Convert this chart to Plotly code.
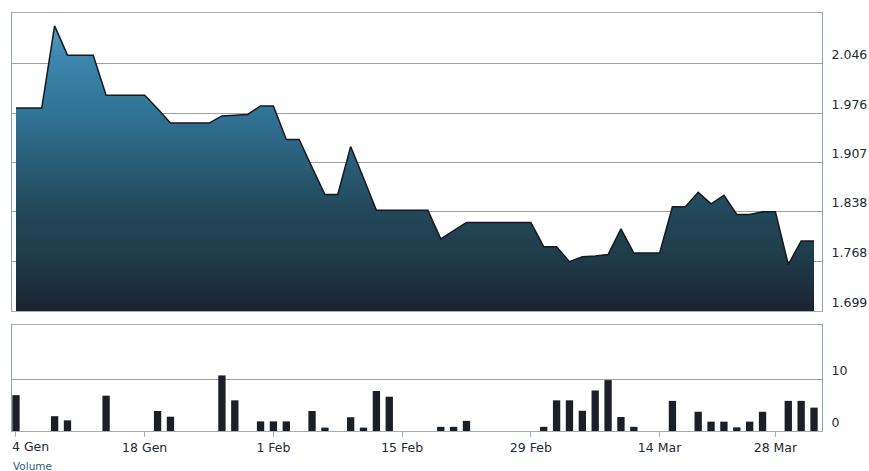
import pandas as pd
import plotly.graph_objects as go

# Trading days (4 Jan 2008 .. 2 Apr 2008, Good Friday closed)
days = [d.strftime("%Y-%m-%d") for d in pd.bdate_range("2008-01-04", "2008-04-02") if d.strftime("%Y-%m-%d") != "2008-03-21"]

price = [1.983, 1.983, 1.983, 2.098, 2.057, 2.057, 2.057, 2.001, 2.001, 2.001,
         2.001, 1.982, 1.962, 1.962, 1.962, 1.962, 1.972, 1.973, 1.974, 1.986,
         1.986, 1.939, 1.939, 1.900, 1.862, 1.862, 1.929, 1.885, 1.840, 1.840,
         1.840, 1.840, 1.840, 1.800, 1.812, 1.823, 1.823, 1.823, 1.823, 1.823,
         1.823, 1.789, 1.789, 1.768, 1.775, 1.776, 1.778, 1.814, 1.780, 1.780,
         1.780, 1.845, 1.845, 1.865, 1.849, 1.861, 1.834, 1.834, 1.838, 1.838,
         1.764, 1.797, 1.797]

volume = [6.9, 0, 0, 2.85, 2.05, 0, 0, 6.8, 0, 0,
          0, 3.85, 2.75, 0, 0, 0, 10.7, 5.9, 0, 1.85,
          1.85, 1.85, 0, 3.85, 0.65, 0, 2.65, 0.65, 7.7, 6.6,
          0, 0, 0, 0.8, 0.8, 1.95, 0, 0, 0, 0,
          0, 0.8, 5.9, 5.9, 3.9, 7.8, 9.8, 2.7, 0.8, 0,
          0, 5.8, 0, 3.7, 1.8, 1.8, 0.7, 1.8, 3.7, 0,
          5.8, 5.8, 4.5]

price_ticks = [1.699, 1.768, 1.838, 1.907, 1.976, 2.046]
price_tick_text = ["1.699", "1.768", "1.838", "1.907", "1.976", "2.046"]
volume_ticks = [0, 10]
date_ticks = ["2008-01-04", "2008-01-18", "2008-02-01", "2008-02-15", "2008-02-29", "2008-03-14", "2008-03-28"]
date_tick_text = ["", "18 Gen", "1 Feb", "15 Feb", "29 Feb", "14 Mar", "28 Mar"]
first_label = "4 Gen"

W, H = 869, 471
FONT = "DejaVu Sans, Verdana, Arial"
xr = [-0.31, len(days) - 1 + 0.62]
xdom = [12 / W, 822 / W]

fig = go.Figure()
fig.add_trace(go.Scatter(
    x=days, y=price, mode="lines", fill="tozeroy",
    line=dict(color="#151a20", width=1.5),
    fillgradient=dict(type="vertical", start=1.699, stop=2.10,
                      colorscale=[[0, "#1b2330"], [0.17, "#1f3a47"], [0.35, "#22485a"],
                                  [0.53, "#2a5f7a"], [0.70, "#317497"], [0.89, "#3d86ad"],
                                  [1, "#5a9dc8"]]),
    xaxis="x", yaxis="y", hoverinfo="skip", showlegend=False))
fig.add_trace(go.Bar(
    x=days, y=volume, marker=dict(color="#1c1f26", line=dict(width=0)),
    xaxis="x2", yaxis="y2", showlegend=False))

axis_line = "#a4acb5"
fig.update_layout(
    width=W, height=H, margin=dict(l=0, r=0, t=0, b=0),
    paper_bgcolor="white", plot_bgcolor="white", bargap=0.43,
    font=dict(family=FONT, size=12.5, color="#222a33"),
    xaxis=dict(domain=xdom, type="category", range=xr, showticklabels=False,
               showgrid=False, showline=True, linecolor=axis_line, mirror=True,
               ticks="", zeroline=False),
    yaxis=dict(domain=[1 - 311 / H, 1 - 13 / H], range=[1.699, 2.116], side="right",
               tickvals=price_ticks, ticktext=price_tick_text,
               ticklabelposition="outside top", ticks="", ticklabelstandoff=6,
               showgrid=True, gridcolor="#a0a0a0", gridwidth=1,
               showline=True, linecolor="#8fa3b8", mirror=True, zeroline=False),
    xaxis2=dict(domain=xdom, type="category", range=xr, anchor="y2",
                tickvals=date_ticks, ticktext=date_tick_text,
                ticks="outside", ticklen=5, tickcolor="#9fb3c8",
                showgrid=False, showline=True, linecolor=axis_line, mirror=True,
                tickfont=dict(size=12.5, color="#1e2936"), zeroline=False),
    yaxis2=dict(domain=[1 - 431 / H, 1 - 325 / H], range=[0, 20.4], side="right",
                anchor="x2", tickvals=volume_ticks, ticklabelposition="outside top",
                ticks="", ticklabelstandoff=6,
                showgrid=True, gridcolor="#a0a0a0", gridwidth=1,
                showline=True, linecolor="#8fa3b8", mirror=True, zeroline=False),
    annotations=[
        dict(text=first_label, xref="paper", yref="paper", x=10 / W, y=1 - 446 / H,
             xanchor="left", yanchor="middle", showarrow=False,
             font=dict(family=FONT, size=12.5, color="#1e2936")),
        dict(text="Volume", xref="paper", yref="paper", x=11 / W, y=1 - 466 / H,
             xanchor="left", yanchor="middle", showarrow=False,
             font=dict(family=FONT, size=10.5, color="#2a5b8c")),
    ],
)

fig.write_html("out.html")
